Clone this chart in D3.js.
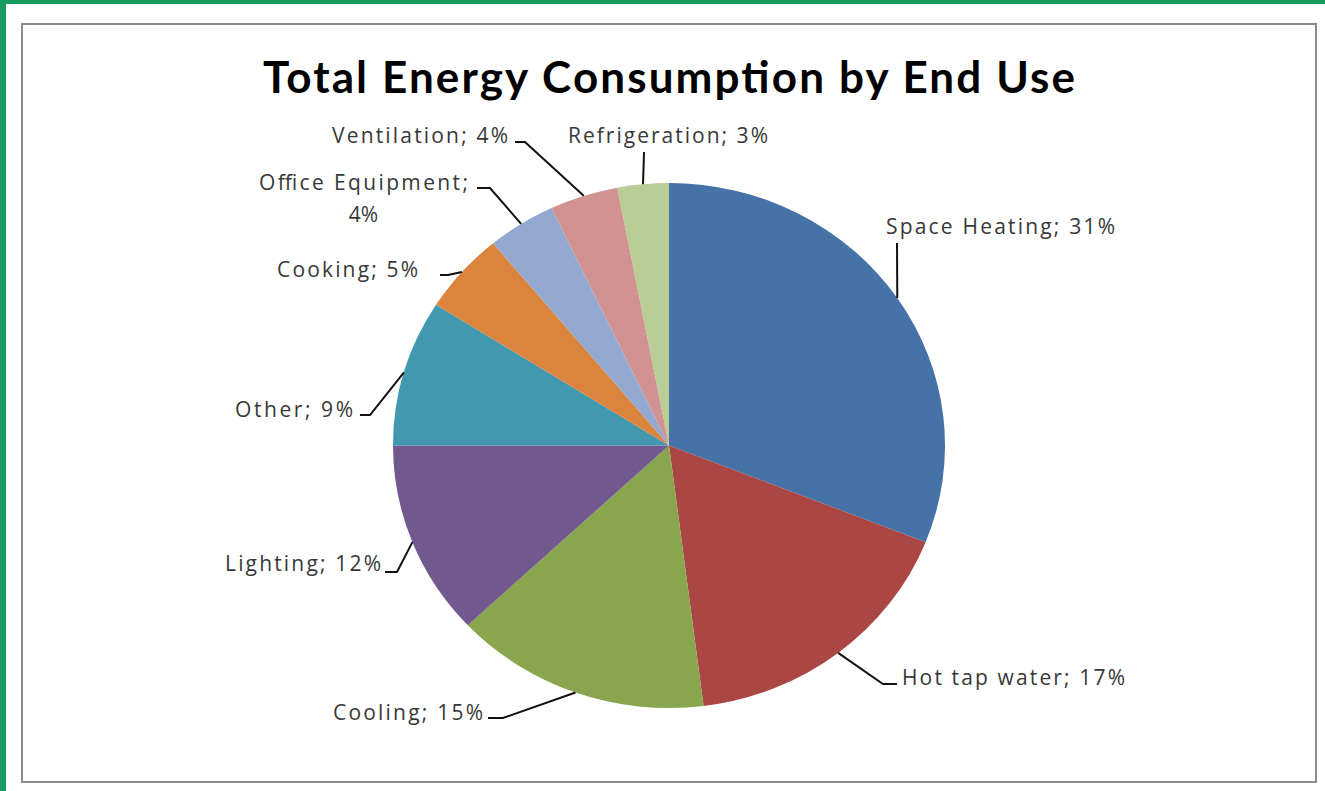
<!DOCTYPE html>
<html>
<head>
<meta charset="utf-8">
<script src="https://cdn.jsdelivr.net/npm/d3@7"></script>
<style>
  html, body { margin: 0; padding: 0; background: #ffffff; }
  svg { display: block; }
</style>
</head>
<body>
<svg id="chart" width="1325" height="791"></svg>
<script>
// ---- data ----
const categories = ["Space Heating", "Hot tap water", "Cooling", "Lighting", "Other",
                    "Cooking", "Office Equipment", "Ventilation", "Refrigeration"];
const values = [31, 17, 15, 12, 9, 5, 4, 4, 3];
const colors = ["#4572A7", "#AA4643", "#89A54E", "#71588F", "#4198AF",
                "#DB843D", "#93A9CF", "#D19392", "#B9CD96"];
const title = "Total Energy Consumption by End Use";

// ---- layout (label placement, Excel "best fit" style) ----
// tx,ty: text position; w: rendered text width; elbow: leader bend; end: leader end near text
const labelLayout = {
  "Space Heating":    { anchor: "start", tx: 886, ty: 234, w: 229, elbow: null,       end: [897, 243] },
  "Hot tap water":    { anchor: "start", tx: 902, ty: 685, w: 223, elbow: [883, 684], end: [897, 684] },
  "Cooling":          { anchor: "end",   tx: 483, ty: 720, w: 150, elbow: [503, 718], end: [488, 718] },
  "Lighting":         { anchor: "end",   tx: 381, ty: 571, w: 156, elbow: [397, 572], end: [385, 572] },
  "Other":            { anchor: "end",   tx: 353, ty: 417, w: 118, elbow: [370, 415], end: [360, 415] },
  "Cooking":          { anchor: "end",   tx: 418, ty: 277, w: 141, elbow: [448, 275], end: [440, 275] },
  "Office Equipment": { anchor: "end",   tx: 468, ty: 190, w: 209, elbow: [490, 188], end: [477, 188], wrap: true },
  "Ventilation":      { anchor: "end",   tx: 508, ty: 143, w: 176, elbow: [525, 142], end: [515, 142] },
  "Refrigeration":    { anchor: "start", tx: 568, ty: 143, w: 200, elbow: null,       end: [644, 152] }
};

const svg = d3.select("#chart");
const W = 1325, H = 791;

// outer green frame
svg.append("rect").attr("x", 0).attr("y", 0).attr("width", W).attr("height", 4).attr("fill", "#1a9b62");
svg.append("rect").attr("x", 0).attr("y", 0).attr("width", 6).attr("height", H).attr("fill", "#1a9b62");

// chart area border
svg.append("rect").attr("x", 22).attr("y", 24).attr("width", 1294).attr("height", 758)
  .attr("fill", "#ffffff").attr("stroke", "#8c8c8c").attr("stroke-width", 2);

// title
svg.append("text")
  .attr("x", 669).attr("y", 93)
  .attr("text-anchor", "middle")
  .attr("font-family", "Lato, 'Open Sans', sans-serif")
  .attr("font-weight", "bold")
  .attr("font-size", 44)
  .attr("textLength", 812)
  .attr("lengthAdjust", "spacing")
  .attr("fill", "#000")
  .text(title);

// pie (Excel draws it slightly elliptical here)
const cx = 669, cy = 445.5, rx = 276, ry = 262.5;
const data = categories.map((c, i) => ({ name: c, value: values[i], color: colors[i] }));
const pie = d3.pie().value(d => d.value).sort(null);
const arcs = pie(data);
const arc = d3.arc().innerRadius(0).outerRadius(ry);

const g = svg.append("g").attr("transform", `translate(${cx},${cy}) scale(${rx / ry},1)`);
g.selectAll("path.slice").data(arcs).join("path")
  .attr("class", "slice")
  .attr("d", arc)
  .attr("fill", d => d.data.color);

// leader lines and labels
const edgePoint = a => {
  const m = (a.startAngle + a.endAngle) / 2;
  return [cx + rx * Math.sin(m), cy - ry * Math.cos(m)];
};

const lab = svg.append("g")
  .attr("font-family", "'Open Sans', Lato, sans-serif")
  .attr("font-size", 21)
  .attr("fill", "#383838");

arcs.forEach(a => {
  const L = labelLayout[a.data.name];
  const p0 = edgePoint(a);
  const pts = [p0];
  if (L.elbow) pts.push(L.elbow);
  pts.push(L.end);
  svg.append("path")
    .attr("d", d3.line()(pts))
    .attr("fill", "none")
    .attr("stroke", "#111")
    .attr("stroke-width", 2);

  const txt = `${a.data.name}; ${a.data.value}%`;
  if (L.wrap) {
    const mid = L.tx - L.w / 2;
    lab.append("text").attr("text-anchor", "middle")
      .attr("x", mid).attr("y", L.ty)
      .attr("textLength", L.w).attr("lengthAdjust", "spacing")
      .text(`${a.data.name};`);
    lab.append("text").attr("text-anchor", "middle")
      .attr("x", mid).attr("y", L.ty + 32)
      .text(`${a.data.value}%`);
  } else {
    lab.append("text")
      .attr("x", L.tx).attr("y", L.ty)
      .attr("text-anchor", L.anchor)
      .attr("textLength", L.w).attr("lengthAdjust", "spacing")
      .text(txt);
  }
});
</script>
</body>
</html>
